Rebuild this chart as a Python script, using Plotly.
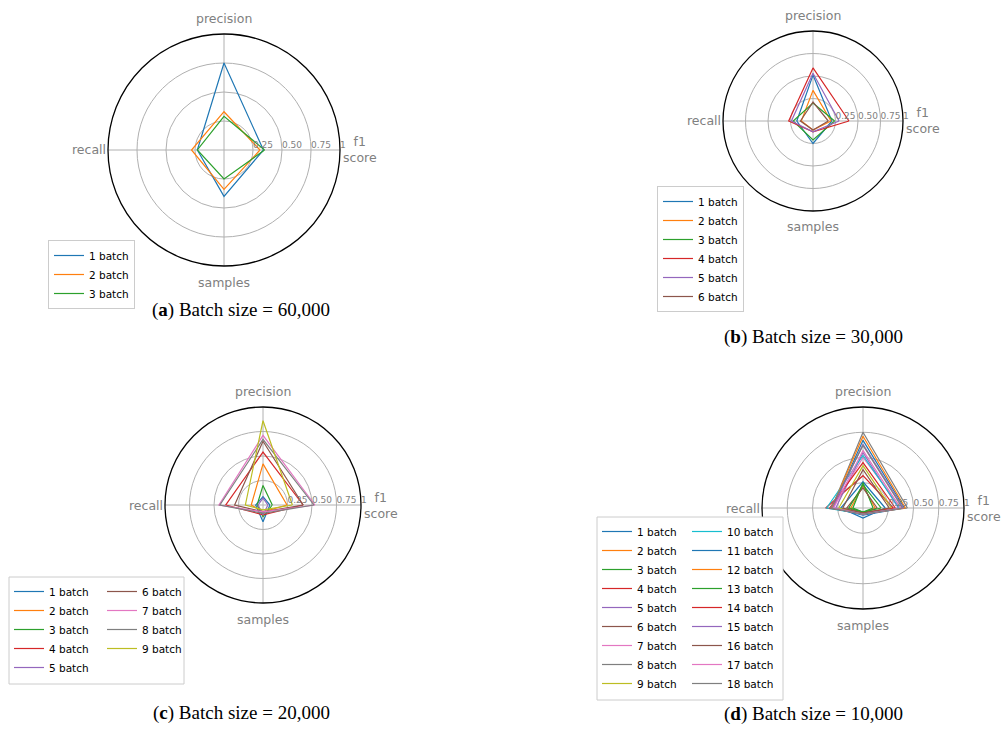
import math
import plotly.graph_objects as go

# ---------------------------------------------------------------- data
METRICS = ["f1<br>score", "precision", "recall", "samples"]
ANGLES = [0, 90, 180, 270]
RADIAL_TICKS = [0.25, 0.5, 0.75, 1.0]
RADIAL_TICK_TEXT = ["0.25", "0.50", "0.75", "1"]

# each row: [f1 score, precision, recall, samples] for one batch
BATCH_60K = [
    [0.34, 0.75, 0.23, 0.40],
    [0.31, 0.33, 0.28, 0.34],
    [0.35, 0.29, 0.23, 0.25],
]
BATCH_30K = [
    [0.21, 0.51, 0.18, 0.25],
    [0.20, 0.34, 0.13, 0.10],
    [0.24, 0.20, 0.22, 0.21],
    [0.40, 0.59, 0.27, 0.12],
    [0.29, 0.53, 0.24, 0.12],
    [0.17, 0.21, 0.14, 0.10],
]
BATCH_20K = [
    [0.07, 0.085, 0.075, 0.17],
    [0.245, 0.42, 0.12, 0.07],
    [0.095, 0.20, 0.06, 0.12],
    [0.41, 0.54, 0.38, 0.10],
    [0.05, 0.07, 0.05, 0.10],
    [0.41, 0.65, 0.29, 0.07],
    [0.53, 0.71, 0.45, 0.07],
    [0.52, 0.67, 0.44, 0.085],
    [0.30, 0.86, 0.18, 0.05],
]
BATCH_10K = [
    [0.22, 0.26, 0.22, 0.10],
    [0.12, 0.22, 0.12, 0.05],
    [0.10, 0.25, 0.10, 0.04],
    [0.30, 0.32, 0.37, 0.05],
    [0.35, 0.55, 0.27, 0.06],
    [0.14, 0.20, 0.16, 0.05],
    [0.38, 0.50, 0.30, 0.06],
    [0.44, 0.75, 0.31, 0.06],
    [0.28, 0.42, 0.24, 0.05],
    [0.36, 0.52, 0.36, 0.06],
    [0.41, 0.67, 0.30, 0.07],
    [0.42, 0.71, 0.31, 0.06],
    [0.18, 0.23, 0.14, 0.04],
    [0.32, 0.45, 0.33, 0.05],
    [0.40, 0.63, 0.30, 0.06],
    [0.26, 0.38, 0.20, 0.05],
    [0.37, 0.57, 0.29, 0.06],
    [0.39, 0.62, 0.32, 0.06],
]

CAPTION_LETTERS = ["a", "b", "c", "d"]
CAPTION_TEXT = ["Batch size = 60,000", "Batch size = 30,000",
                "Batch size = 20,000", "Batch size = 10,000"]

PALETTE = ["#1f77b4", "#ff7f0e", "#2ca02c", "#d62728", "#9467bd",
           "#8c564b", "#e377c2", "#7f7f7f", "#bcbd22", "#17becf"]

# ---------------------------------------------------------------- layout (pixels)
W, H = 1001, 729
GRID = "#b0b0b0"
LABEL_GREY = "#808080"
SANS = "DejaVu Sans"
SERIF = "Liberation Serif"
LABEL_PAD = [20, 16, 19, 16]   # gap from outer circle to metric label centre

PANELS = [
    dict(data=BATCH_60K, center=(224, 150), radius=116,
         legend=(48, 240), rows=3, col_dx=0, frame=None, caption=(241, 310)),
    dict(data=BATCH_30K, center=(813, 121), radius=90,
         legend=(657, 186), rows=6, col_dx=0, frame=None, caption=(813, 337)),
    dict(data=BATCH_20K, center=(263, 505), radius=98,
         legend=(9, 577), rows=5, col_dx=93, frame=(9, 577, 184, 684), caption=(241, 713)),
    dict(data=BATCH_10K, center=(863, 508), radius=101,
         legend=(597, 517), rows=9, col_dx=90, frame=(597, 517, 783, 700), caption=(813, 714)),
]


def px_x(x):
    return x / W


def px_y(y):
    return 1 - y / H


fig = go.Figure()
layout_extra = {}
shapes = []
annotations = []
legend_count = 0

for p_idx, panel in enumerate(PANELS):
    subplot = "polar" if p_idx == 0 else f"polar{p_idx + 1}"
    cx, cy = panel["center"]
    R = panel["radius"]

    # legends: one per column
    n_cols = 1 if panel["col_dx"] == 0 else 2
    legend_names = []
    for c in range(n_cols):
        legend_count += 1
        lname = "legend" if legend_count == 1 else f"legend{legend_count}"
        legend_names.append(lname)
        lx, ly = panel["legend"]
        lx += c * panel["col_dx"]
        framed = panel["frame"] is None
        layout_extra[lname] = dict(
            x=px_x(lx), y=px_y(ly), xanchor="left", yanchor="top",
            bgcolor="white" if framed else "rgba(0,0,0,0)",
            bordercolor="#cccccc", borderwidth=1 if framed else 0,
            font=dict(family=SANS, size=10.5, color="black"),
            itemwidth=30, tracegroupgap=0, traceorder="normal",
        )

    if panel["frame"] is not None:
        x0, y0, x1, y1 = panel["frame"]
        shapes.append(dict(type="rect", xref="paper", yref="paper",
                           x0=px_x(x0), x1=px_x(x1), y0=px_y(y1), y1=px_y(y0),
                           fillcolor="white", line=dict(color="#cccccc", width=1),
                           layer="above"))

    # one closed polygon per batch
    for i, row in enumerate(panel["data"]):
        col = 0 if i < panel["rows"] else 1
        fig.add_trace(go.Scatterpolar(
            r=row + [row[0]], theta=ANGLES + [ANGLES[0]],
            mode="lines", name=f"{i + 1} batch",
            line=dict(color=PALETTE[i % len(PALETTE)], width=1.2),
            subplot=subplot, legend=legend_names[col], legendrank=i + 1,
        ))

    # radial tick labels along the f1 axis
    fig.add_trace(go.Scatterpolar(
        r=RADIAL_TICKS, theta=[0] * len(RADIAL_TICKS), text=RADIAL_TICK_TEXT,
        mode="text", textposition="top right",
        textfont=dict(family=SANS, size=9, color=LABEL_GREY),
        subplot=subplot, showlegend=False, hoverinfo="skip", cliponaxis=False,
    ))

    # metric names just outside the outer circle
    for name, ang, pad in zip(METRICS, ANGLES, LABEL_PAD):
        rad = math.radians(ang)
        annotations.append(dict(
            x=px_x(cx + (R + pad) * math.cos(rad)),
            y=px_y(cy - (R + pad) * math.sin(rad)),
            xref="paper", yref="paper", text=name, showarrow=False,
            xanchor="center", yanchor="middle", align="center",
            font=dict(family=SANS, size=12.5, color=LABEL_GREY),
        ))

    layout_extra[subplot] = dict(
        domain=dict(x=[px_x(cx - R), px_x(cx + R)], y=[px_y(cy + R), px_y(cy - R)]),
        bgcolor="white",
        radialaxis=dict(range=[0, 1], tickvals=RADIAL_TICKS[:-1], showticklabels=False,
                        ticks="", showline=False, gridcolor=GRID, gridwidth=1),
        angularaxis=dict(tickvals=ANGLES, showticklabels=False, ticks="",
                         showline=True, linecolor="black", linewidth=1.3,
                         gridcolor=GRID, gridwidth=1.2,
                         rotation=0, direction="counterclockwise"),
    )

    ax, ay = panel["caption"]
    annotations.append(dict(
        x=px_x(ax), y=px_y(ay), xref="paper", yref="paper",
        text=f"(<b>{CAPTION_LETTERS[p_idx]}</b>) {CAPTION_TEXT[p_idx]}",
        showarrow=False, xanchor="center", yanchor="middle",
        font=dict(family=SERIF, size=19, color="black"),
    ))

fig.update_layout(
    width=W, height=H, autosize=False,
    margin=dict(l=0, r=0, t=0, b=0),
    paper_bgcolor="white", plot_bgcolor="white",
    shapes=shapes, annotations=annotations,
    **layout_extra,
)

fig.write_html("out.html")
